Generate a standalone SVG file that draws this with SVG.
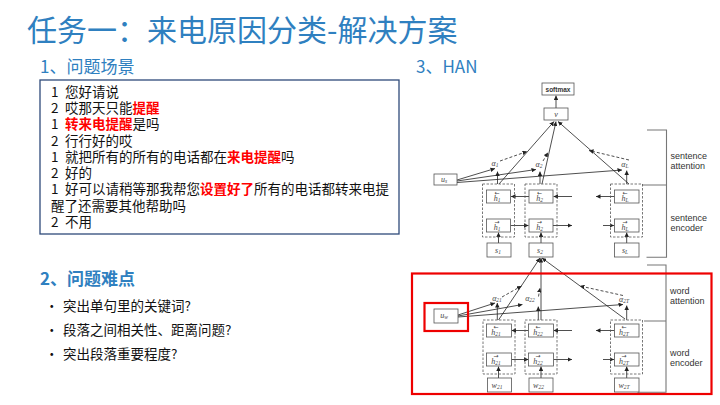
<svg xmlns="http://www.w3.org/2000/svg" width="720" height="405" viewBox="0 0 720 405">
<defs>
<marker id="ah" viewBox="0 0 6 6" refX="6" refY="3" markerWidth="4.5" markerHeight="4.5" markerUnits="userSpaceOnUse" orient="auto"><path d="M0,0 L6,3 L0,6 z" fill="#222"/></marker>
<style>
.t{font-family:"Noto Sans CJK SC","Liberation Sans",sans-serif}
.ttl{fill:#2F80C0}
.bd{font-family:"Noto Sans CJK SC","Liberation Sans",sans-serif;font-size:13.5px;fill:#111}
.red{fill:#FF0000;font-weight:bold}
.bx{fill:#fff;stroke:#555;stroke-width:0.8}
.dbx{fill:none;stroke:#555;stroke-width:0.8;stroke-dasharray:2.5 1.5}
.ar{fill:none;stroke:#222;stroke-width:0.8;marker-end:url(#ah)}
.da{fill:none;stroke:#222;stroke-width:0.8;stroke-dasharray:3 2;marker-end:url(#ah)}
.br{fill:none;stroke:#777;stroke-width:1.1}
.lab{font-family:"Liberation Sans",Arial,sans-serif;font-size:9px;fill:#333}
.m{font-family:"Liberation Serif","DejaVu Serif",serif;font-style:italic;font-size:8px;fill:#444;text-anchor:middle}
.sb{font-size:5.5px}
.acc{font-family:"DejaVu Sans",sans-serif;font-style:normal;font-size:6px}
.redbox{fill:none;stroke:#EE0000;stroke-width:2.2}
</style>
</defs>
<rect width="720" height="405" fill="#fff"/>

<g id="title">
<text class="t ttl" x="27" y="41" font-size="30">任务一：来电原因分类-解决方案</text>
<text class="t ttl" x="40" y="73" font-size="17">1、问题场景</text>
<text class="t ttl" x="416" y="73" font-size="17">3、HAN</text>
<text class="t ttl" x="40" y="285" font-size="17" font-weight="bold">2、问题难点</text>
</g>

<g id="dialog">
<rect x="40" y="80" width="359" height="154" fill="#fff" stroke="#2F4A7A" stroke-width="1.3"/>
<g class="bd">
<text x="51" y="97">1<tspan x="65">您好请说</tspan></text>
<text x="51" y="113">2<tspan x="65">哎那天只能</tspan><tspan class="red">提醒</tspan></text>
<text x="51" y="129">1<tspan x="65" class="red">转来电提醒</tspan><tspan>是吗</tspan></text>
<text x="51" y="146">2<tspan x="65">行行好的哎</tspan></text>
<text x="51" y="162">1<tspan x="65">就把所有的所有的电话都在</tspan><tspan class="red">来电提醒</tspan><tspan>吗</tspan></text>
<text x="51" y="178">2<tspan x="65">好的</tspan></text>
<text x="51" y="194">1<tspan x="65">好可以请稍等那我帮您</tspan><tspan class="red">设置好了</tspan><tspan>所有的电话都转来电提</tspan><tspan x="51" y="211">醒了还需要其他帮助吗</tspan></text>
<text x="51" y="227">2<tspan x="65">不用</tspan></text>
</g>
</g>

<g id="difficulties" class="bd" font-size="13">
<text x="45" y="311">•<tspan x="63">突出单句里的关键词?</tspan></text>
<text x="45" y="335">•<tspan x="63">段落之间相关性、距离问题?</tspan></text>
<text x="45" y="359">•<tspan x="63">突出段落重要程度?</tspan></text>
</g>

<g id="connectors">
<path class="ar" d="M556,108 L556,95.5"/>
<path class="ar" d="M529,196.5 L511,196.5"/>
<path class="ar" d="M572,196.5 L553.5,196.5"/>
<path class="ar" d="M614.5,196.5 L596,196.5"/>
<path class="ar" d="M510.5,225.5 L528.5,225.5"/>
<path class="ar" d="M553,225.5 L572,225.5"/>
<path class="ar" d="M603,225.5 L614,225.5"/>
<path class="ar" d="M498.5,243 L498.5,232.5"/>
<path class="ar" d="M541,243 L541,232.5"/>
<path class="ar" d="M626.7,243 L626.7,232.5"/>
<path class="ar" d="M497.5,184 L497.5,171.5"/>
<path class="ar" d="M540,184 L540,171.5"/>
<path class="ar" d="M626.7,184 L626.7,170.5"/>
<path class="ar" d="M457,180 L495,168.5"/>
<path class="ar" d="M457,181 L536,169.5"/>
<path class="ar" d="M457,182.5 L622,170"/>
<path class="ar" d="M499,184 L554,121.5"/>
<path class="ar" d="M542,184 L556,121.5"/>
<path class="ar" d="M629,184 L558,121.5"/>
<path class="da" d="M500,161 L527,151.5"/>
<path class="da" d="M543,161 L548,152.5"/>
<path class="da" d="M629,160 L589,150.5"/>
<path class="ar" d="M528.5,330.5 L511.5,330.5"/>
<path class="ar" d="M572,330.5 L553.5,330.5"/>
<path class="ar" d="M614.5,330.5 L596,330.5"/>
<path class="ar" d="M511.5,359.5 L528.5,359.5"/>
<path class="ar" d="M553.5,359.5 L572,359.5"/>
<path class="ar" d="M603,359.5 L614,359.5"/>
<path class="ar" d="M498.5,378 L498.5,366.5"/>
<path class="ar" d="M541,378 L541,366.5"/>
<path class="ar" d="M626.7,378 L626.7,366.5"/>
<path class="ar" d="M497.3,320 L497.3,303"/>
<path class="ar" d="M538.3,320 L538.3,306.5"/>
<path class="ar" d="M626.7,320 L626.7,305.5"/>
<path class="ar" d="M458,315 L495,303"/>
<path class="ar" d="M458,316 L522.5,304.5"/>
<path class="ar" d="M458,317 L623,304.5"/>
<path class="ar" d="M498.5,320 L540,258"/>
<path class="ar" d="M541,320 L541,258"/>
<path class="ar" d="M625,319 L542,258"/>
<path class="da" d="M502,297 L521.5,286"/>
<path class="da" d="M538.5,296.5 L540,288"/>
<path class="da" d="M623,295.5 L580,286"/>
<path class="br" d="M647,130 H666.5 V257.3 H646.5 M642,185 H666.5"/>
<path class="br" d="M647,265 H666 V392.3 H637.5 M644,321 H666"/>
</g>

<g id="softmax"><rect class="bx" x="542" y="83" width="32" height="12"/><text x="558" y="91.5" font-family="Liberation Sans,Arial,sans-serif" font-size="6.5" font-weight="bold" fill="#333" text-anchor="middle">softmax</text></g>
<g id="v"><rect class="bx" x="544" y="108" width="24" height="12"/><text class="m" x="556" y="116.5">v</text></g>
<g id="us"><rect class="bx" x="434" y="174" width="23" height="11"/><text class="m" x="444" y="182">u<tspan class="sb" dy="1">s</tspan></text></g>

<g id="alpha-s">
<text class="m" x="495" y="166">α<tspan class="sb" dy="1">1</tspan></text>
<text class="m" x="539" y="167">α<tspan class="sb" dy="1">2</tspan></text>
<text class="m" x="625" y="167">α<tspan class="sb" dy="1">L</tspan></text>
</g>

<g id="sent-col1">
<rect class="dbx" x="482.5" y="184" width="32" height="53"/>
<rect class="bx" x="486.5" y="190" width="24" height="13"/><text class="m"><tspan class="acc" x="497" y="195">←</tspan><tspan x="497" y="201">h</tspan><tspan class="sb" dy="1">1</tspan></text>
<rect class="bx" x="486.5" y="219" width="24" height="13"/><text class="m"><tspan class="acc" x="497" y="224">→</tspan><tspan x="497" y="230">h</tspan><tspan class="sb" dy="1">1</tspan></text>
</g>
<g id="s1"><rect class="bx" x="487" y="243" width="24" height="14"/><text class="m" x="498" y="252.5">s<tspan class="sb" dy="1">1</tspan></text></g>
<g id="sent-col2">
<rect class="dbx" x="525" y="184" width="32" height="53"/>
<rect class="bx" x="529" y="190" width="24" height="13"/><text class="m"><tspan class="acc" x="539.5" y="195">←</tspan><tspan x="539.5" y="201">h</tspan><tspan class="sb" dy="1">2</tspan></text>
<rect class="bx" x="529" y="219" width="24" height="13"/><text class="m"><tspan class="acc" x="539.5" y="224">→</tspan><tspan x="539.5" y="230">h</tspan><tspan class="sb" dy="1">2</tspan></text>
</g>
<g id="s2"><rect class="bx" x="529" y="243" width="24" height="14"/><text class="m" x="540" y="252.5">s<tspan class="sb" dy="1">2</tspan></text></g>
<g id="sent-colL">
<rect class="dbx" x="610.5" y="184" width="32" height="53"/>
<rect class="bx" x="614.5" y="190" width="24.5" height="13"/><text class="m"><tspan class="acc" x="625" y="195">←</tspan><tspan x="625" y="201">h</tspan><tspan class="sb" dy="1">L</tspan></text>
<rect class="bx" x="614.5" y="219" width="24.5" height="13"/><text class="m"><tspan class="acc" x="625" y="224">→</tspan><tspan x="625" y="230">h</tspan><tspan class="sb" dy="1">L</tspan></text>
</g>
<g id="sL"><rect class="bx" x="614.5" y="243" width="24.5" height="14"/><text class="m" x="625" y="252.5">s<tspan class="sb" dy="1">L</tspan></text></g>

<g id="uw"><rect class="bx" x="434" y="309" width="24" height="14"/><text class="m" x="444" y="317.5">u<tspan class="sb" dy="1">w</tspan></text></g>
<g id="alpha-w">
<text class="m" x="497" y="301">α<tspan class="sb" dy="1">21</tspan></text>
<text class="m" x="530" y="301">α<tspan class="sb" dy="1">22</tspan></text>
<text class="m" x="624" y="302">α<tspan class="sb" dy="1">2T</tspan></text>
</g>
<g id="word-col1">
<rect class="dbx" x="483" y="320" width="32" height="54"/>
<rect class="bx" x="486.5" y="324" width="25" height="13"/><text class="m"><tspan class="acc" x="496" y="329">←</tspan><tspan x="496" y="335">h</tspan><tspan class="sb" dy="1">21</tspan></text>
<rect class="bx" x="486.5" y="353" width="25" height="13"/><text class="m"><tspan class="acc" x="496" y="358">→</tspan><tspan x="496" y="364">h</tspan><tspan class="sb" dy="1">21</tspan></text>
</g>
<g id="w21"><rect class="bx" x="487.5" y="378" width="24" height="14"/><text class="m" x="497" y="387.5">w<tspan class="sb" dy="1">21</tspan></text></g>
<g id="word-col2">
<rect class="dbx" x="525" y="320" width="32" height="54"/>
<rect class="bx" x="528.5" y="324" width="25" height="13"/><text class="m"><tspan class="acc" x="538" y="329">←</tspan><tspan x="538" y="335">h</tspan><tspan class="sb" dy="1">22</tspan></text>
<rect class="bx" x="528.5" y="353" width="25" height="13"/><text class="m"><tspan class="acc" x="538" y="358">→</tspan><tspan x="538" y="364">h</tspan><tspan class="sb" dy="1">22</tspan></text>
</g>
<g id="w22"><rect class="bx" x="529" y="378" width="24" height="14"/><text class="m" x="538.5" y="387.5">w<tspan class="sb" dy="1">22</tspan></text></g>
<g id="word-colT">
<rect class="dbx" x="610.5" y="320" width="32" height="54"/>
<rect class="bx" x="614.5" y="324" width="24.5" height="13"/><text class="m"><tspan class="acc" x="624" y="329">←</tspan><tspan x="624" y="335">h</tspan><tspan class="sb" dy="1">2T</tspan></text>
<rect class="bx" x="614.5" y="353" width="24.5" height="13"/><text class="m"><tspan class="acc" x="624" y="358">→</tspan><tspan x="624" y="364">h</tspan><tspan class="sb" dy="1">2T</tspan></text>
</g>
<g id="w2T"><rect class="bx" x="614.5" y="378" width="24.5" height="14"/><text class="m" x="624" y="387.5">w<tspan class="sb" dy="1">2T</tspan></text></g>

<g id="layer-labels" class="lab">
<text x="670.5" y="159">sentence<tspan x="670.5" y="168.5">attention</tspan></text>
<text x="670.5" y="220.5">sentence<tspan x="670.5" y="230.5">encoder</tspan></text>
<text x="670" y="294">word<tspan x="670" y="304">attention</tspan></text>
<text x="670" y="355.5">word<tspan x="670" y="366">encoder</tspan></text>
</g>

<g id="highlights">
<rect class="redbox" x="412" y="273.5" width="299.5" height="120.5"/>
<rect class="redbox" x="424.5" y="303" width="43.5" height="28"/>
</g>
</svg>
